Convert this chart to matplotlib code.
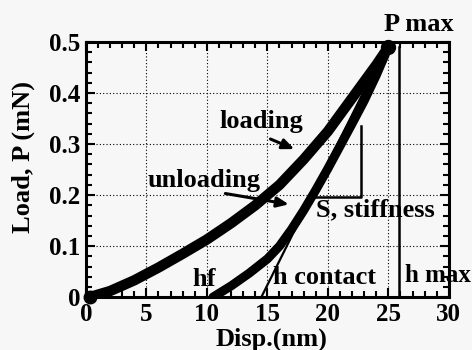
import matplotlib
matplotlib.use("Agg")
import matplotlib.pyplot as plt
from matplotlib.ticker import MultipleLocator, FixedLocator, FixedFormatter

plt.rcParams["font.family"] = ["Liberation Serif", "DejaVu Serif"]
plt.rcParams["font.weight"] = "bold"

# ── data ──────────────────────────────────────────────────────────────────────
load_x = [0.3, 2, 4, 6, 8, 10, 12, 14, 16, 18, 20, 22, 24, 25]
load_y = [0.0, 0.012, 0.033, 0.058, 0.085, 0.113, 0.145, 0.18, 0.22, 0.27,
          0.325, 0.39, 0.455, 0.49]

unload_x = [10.5, 12, 13.5, 15, 16, 17, 18, 19, 20, 21, 22, 23, 24, 25]
unload_y = [0.0, 0.022, 0.047, 0.075, 0.1, 0.133, 0.17, 0.21, 0.252, 0.296,
            0.34, 0.385, 0.435, 0.49]

tangent_x = [14.5, 25]
tangent_y = [0.0, 0.5]

stiff_x = [18.8, 22.7, 22.7]
stiff_y = [0.196, 0.196, 0.335]

hmax_x = 25.9
hmax_y = [0.0, 0.49]

x_ticks = [0, 5, 10, 15, 20, 25, 30]
y_ticks = [0, 0.1, 0.2, 0.3, 0.4, 0.5]
y_tick_labels = ["0", "0.1", "0.2", "0.3", "0.4", "0.5"]

BG = "#f7f7f7"

fig = plt.figure(figsize=(4.72, 3.5), dpi=100, facecolor=BG)
ax = fig.add_axes([0.182, 0.151, 0.769, 0.729], facecolor=BG)

# grid
for gx in x_ticks[1:-1]:
    ax.axvline(gx, color="black", linestyle=(0, (1, 2)), linewidth=0.8, zorder=1)
for gy in y_ticks[1:-1]:
    ax.axhline(gy, color="black", linestyle=(0, (1, 2)), linewidth=0.8, zorder=1)

# curves
ax.plot(load_x, load_y, color="black", linewidth=7.5, solid_capstyle="round",
        solid_joinstyle="round", zorder=3)
ax.plot(unload_x, unload_y, color="black", linewidth=6.5, solid_capstyle="round",
        solid_joinstyle="round", zorder=3)
ax.plot(tangent_x, tangent_y, color="black", linewidth=1.6, zorder=3)
ax.plot(stiff_x, stiff_y, color="black", linewidth=1.8, zorder=3)
ax.plot([hmax_x, hmax_x], hmax_y, color="black", linewidth=1.8, zorder=3)
ax.plot([load_x[0]], [load_y[0]], "o", color="black", markersize=9,
        clip_on=False, zorder=4)
ax.plot([load_x[-1]], [load_y[-1]], "o", color="black", markersize=10,
        clip_on=False, zorder=4)

ax.set_xlim(0, 30)
ax.set_ylim(0, 0.5)

# ticks
ax.xaxis.set_major_locator(FixedLocator(x_ticks))
ax.xaxis.set_minor_locator(MultipleLocator(1))
ax.yaxis.set_major_locator(FixedLocator(y_ticks))
ax.yaxis.set_major_formatter(FixedFormatter(y_tick_labels))
ax.yaxis.set_minor_locator(MultipleLocator(0.02))
ax.tick_params(which="both", direction="in", top=True, right=True, width=1.5,
               labelsize=18)
ax.tick_params(which="major", length=6.5, pad=4)
ax.tick_params(which="minor", length=4.3)
for s in ax.spines.values():
    s.set_linewidth(2.2)

ax.set_xlabel("Disp.(nm)", fontsize=19, fontweight="bold")
ax.set_ylabel("Load, P (mN)", fontsize=19, fontweight="bold")
ax.xaxis.set_label_coords(0.51, -0.118)
ax.yaxis.set_label_coords(-0.14, 0.55)

# annotations
txt = dict(fontsize=19, fontweight="bold", zorder=5)
ax.text(24.6, 0.535, "P max", ha="left", va="center", clip_on=False, **txt)
ax.text(11.07, 0.331, "loading", ha="left", va="baseline", **txt)
ax.text(5.1, 0.215, "unloading", ha="left", va="baseline", **txt)
ax.text(19.0, 0.171, "S, stiffness", ha="left", va="center", **txt)
ax.text(8.76, 0.035, "hf", ha="left", va="center", **txt)
ax.text(15.45, 0.038, "h contact", ha="left", va="center", **txt)
ax.text(26.4, 0.042, "h max", ha="left", va="center", clip_on=False,
        fontsize=18, fontweight="bold", zorder=5)

arrow = dict(arrowstyle="-|>,head_length=0.7,head_width=0.3", color="black",
             linewidth=2.2)
ax.annotate("", xy=(17.44, 0.288), xytext=(15.04, 0.312), arrowprops=arrow)
ax.annotate("", xy=(17.0, 0.181), xytext=(11.3, 0.204), arrowprops=arrow)

fig.savefig("out.png", dpi=100, facecolor=BG)
